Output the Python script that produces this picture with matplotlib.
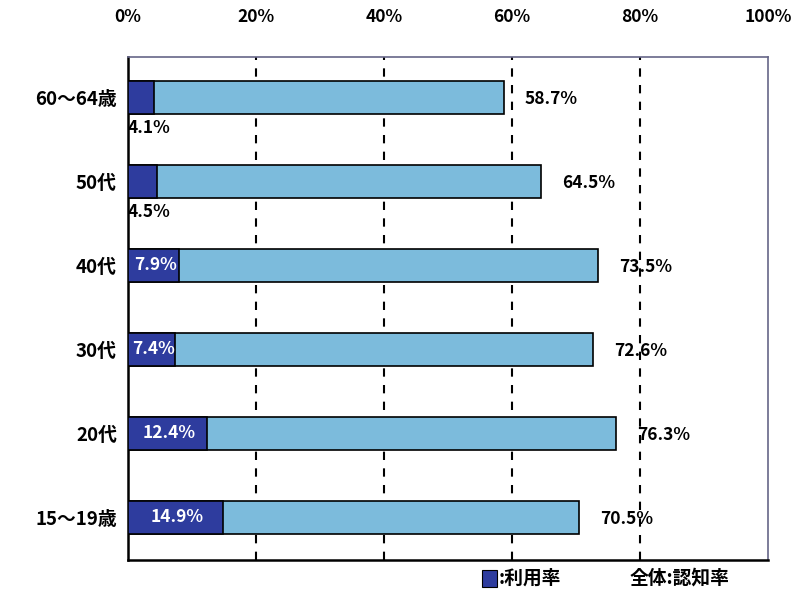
import matplotlib
matplotlib.use("Agg")
import matplotlib.pyplot as plt
from matplotlib.patches import Rectangle

plt.rcParams['font.family'] = ['Noto Sans CJK JP', 'DejaVu Sans']

categories = ["60～64歳", "50代", "40代", "30代", "20代", "15～19歳"]
awareness = [58.7, 64.5, 73.5, 72.6, 76.3, 70.5]   # 全体:認知率
usage = [4.1, 4.5, 7.9, 7.4, 12.4, 14.9]           # 利用率
xticks = [0, 20, 40, 60, 80, 100]
xtick_labels = ["0%", "20%", "40%", "60%", "80%", "100%"]

dark = "#2E3C9E"
light = "#7CBBDC"

fig = plt.figure(figsize=(7.93, 5.90), dpi=100)
ax = fig.add_axes([0.1614, 0.0508, 0.8071, 0.8526])

ypos = list(range(len(categories)))
bh = 0.39
ax.barh(ypos, awareness, height=bh, color=light, edgecolor="black", linewidth=1.2, zorder=3)
ax.barh(ypos, usage, height=bh, color=dark, edgecolor="black", linewidth=1.2, zorder=4)

lab_kw = dict(fontsize=12.5, fontweight="bold", zorder=5)
for y, a, u in zip(ypos, awareness, usage):
    ax.text(a + 3.3, y + 0.02, f"{a}%", ha="left", va="center", **lab_kw)
    if u < 6:
        ax.text(0.0, y + 0.36, f"{u}%", ha="left", va="center", **lab_kw)
    else:
        ax.text(u / 2 + 0.3, y, f"{u}%", ha="center", va="center", color="white", **lab_kw)

ax.set_xlim(0, 100)
ax.set_ylim(5.51, -0.48)
ax.set_yticks(ypos)
ax.set_yticklabels(categories, fontsize=13.5, fontweight="bold")
ax.set_xticks(xticks)
ax.set_xticklabels(xtick_labels, fontsize=12.5, fontweight="bold")
ax.xaxis.tick_top()
ax.tick_params(axis="x", length=0, pad=22)
ax.tick_params(axis="y", length=0, pad=8)
for x in xticks[1:-1]:
    ax.axvline(x, color="black", linestyle=(0, (4, 4)), linewidth=1.5, zorder=1)
for s in ax.spines.values():
    s.set_linewidth(1.2)
ax.spines["top"].set_color("#666688")
ax.spines["right"].set_color("#666688")
ax.spines["left"].set_linewidth(1.8)
ax.spines["bottom"].set_linewidth(1.8)

# legend text under the plot
fig.patches.append(Rectangle((482 / 793, 1 - 587 / 590), 15 / 793, 17 / 590,
                             transform=fig.transFigure, facecolor=dark, edgecolor="black", linewidth=0.8))
fig.text(499 / 793, 1 - 578 / 590, ":利用率", fontsize=13.5, fontweight="bold", va="center", ha="left")
fig.text(630 / 793, 1 - 578 / 590, "全体:認知率", fontsize=13.5, fontweight="bold", va="center", ha="left")

fig.savefig("out.png", dpi=100)
